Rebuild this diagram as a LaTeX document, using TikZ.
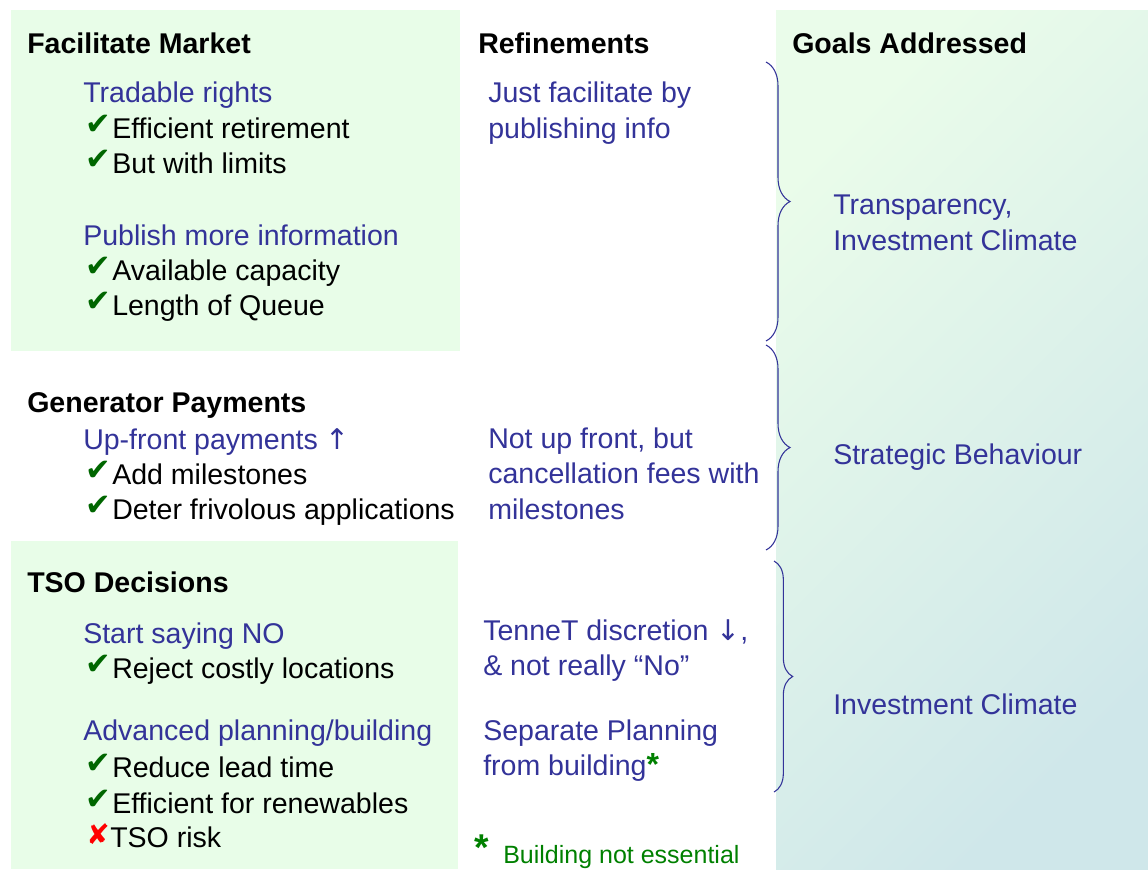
\documentclass[tikz,border=0pt]{standalone}
\usepackage{fontspec}
\setmainfont{Liberation Sans}
\newfontfamily\symfont{DejaVu Sans}
\usetikzlibrary{decorations.pathreplacing}

\definecolor{navy}{HTML}{333399}
\definecolor{okgreen}{HTML}{006600}
\definecolor{notegreen}{HTML}{008000}
\definecolor{paleg}{HTML}{E8FDE8}
\definecolor{panelA}{HTML}{EAFCEA}
\definecolor{panelB}{HTML}{CFE7EA}

% tick and cross in front of the items
\newcommand{\ok}{\makebox[20.25pt][l]{\raisebox{2.5pt}{\symfont\fontsize{23pt}{23pt}\selectfont\color{okgreen}✔}}}
\newcommand{\nok}{\makebox[18pt][l]{\raisebox{2pt}{\symfont\fontsize{21pt}{21pt}\selectfont\color{red}✘}}}
\newcommand{\fnmark}{{\color{notegreen}\bfseries\fontsize{24pt}{24pt}\selectfont *}}
\newcommand{\up}{{\symfont ↑}}
\newcommand{\down}{{\symfont ↓}}

\begin{document}
\begin{tikzpicture}[x=0.75pt, y=-0.75pt,
  every node/.style={inner sep=0pt, anchor=base west, font=\fontsize{21.4pt}{26pt}\selectfont},
  head/.style={font=\fontsize{21.4pt}{26pt}\selectfont\bfseries, text=black},
  topic/.style={text=navy},
  item/.style={text=black},
  bracket/.style={draw=navy, line width=0.8pt, decorate, decoration={brace, amplitude=#1}},
  bracket/.default=18pt]

  \useasboundingbox (0,0) rectangle (1148,869);

  % Background panels
  \fill[paleg] (11,10) rectangle (460,351);
  \fill[paleg] (11,541) rectangle (458,869);
  \shade[top color=panelA, bottom color=panelB, shading angle=45] (776,10) rectangle (1148,869);

  % Column heads
  \node[head] (fm-head) at (27,53) {Facilitate Market};
  \node[head] (ref-head) at (478,53) {Refinements};
  \node[head] (goal-head) at (792,53) {Goals Addressed};

  % Facilitate market
  \node[topic] (trade) at (83,102) {Tradable rights};
  \node[item] (trade-a) at (85,138) {\ok Efficient retirement};
  \node[item] (trade-b) at (85,173) {\ok But with limits};
  \node[topic] (publish) at (83,245) {Publish more information};
  \node[item] (publish-a) at (85,280) {\ok Available capacity};
  \node[item] (publish-b) at (85,315) {\ok Length of Queue};

  % Generator payments
  \node[head] (gp-head) at (27,412) {Generator Payments};
  \node[topic] (upfront) at (83,449) {Up-front payments \up};
  \node[item] (upfront-a) at (85,484) {\ok Add milestones};
  \node[item] (upfront-b) at (85,519) {\ok Deter frivolous applications};

  % TSO decisions
  \node[head] (tso-head) at (27,592) {TSO Decisions};
  \node[topic] (sayno) at (83,643) {Start saying NO};
  \node[item] (sayno-a) at (85,678) {\ok Reject costly locations};
  \node[topic] (advance) at (83,740) {Advanced planning/building};
  \node[item] (advance-a) at (85,777) {\ok Reduce lead time};
  \node[item] (advance-b) at (85,813) {\ok Efficient for renewables};
  \node[item] (advance-c) at (86,847) {\nok TSO risk};

  % Refinements
  \node[topic] (ref-1a) at (488,102) {Just facilitate by};
  \node[topic] (ref-1b) at (488,138) {publishing info};
  \node[topic] (ref-2a) at (488,448) {Not up front, but};
  \node[topic] (ref-2b) at (488,483) {cancellation fees with};
  \node[topic] (ref-2c) at (488,519) {milestones};
  \node[topic] (ref-3a) at (483,640) {TenneT discretion \down,};
  \node[topic] (ref-3b) at (483,675) {\& not really “No”};
  \node[topic] (ref-4a) at (483,740) {Separate Planning};
  \node[topic] (ref-4b) at (483,775) {from building\fnmark};

  % Footnote
  \node[text=notegreen, font=\fontsize{28pt}{28pt}\selectfont\bfseries] (note-star) at (474,860) {*};
  \node[text=notegreen, font=\fontsize{18.75pt}{20pt}\selectfont] (note-text) at (503,863) {Building not essential};

  % Goals
  \node[topic] (goal-1a) at (833,214) {Transparency,};
  \node[topic] (goal-1b) at (833,250) {Investment Climate};
  \node[topic] (goal-2) at (833,464) {Strategic Behaviour};
  \node[topic] (goal-3) at (833,714) {Investment Climate};

  % Braces tying refinements to goals
  \coordinate (b1-top) at (766,62);
  \coordinate (b1-bot) at (766,341);
  \coordinate (b2-top) at (766,345);
  \coordinate (b2-bot) at (766,550);
  \coordinate (b3-top) at (774,561);
  \coordinate (b3-bot) at (774,792);
  \draw[bracket] (b1-top) -- (b1-bot);
  \draw[bracket] (b2-top) -- (b2-bot);
  \draw[bracket=14pt] (b3-top) -- (b3-bot);
\end{tikzpicture}
\end{document}
